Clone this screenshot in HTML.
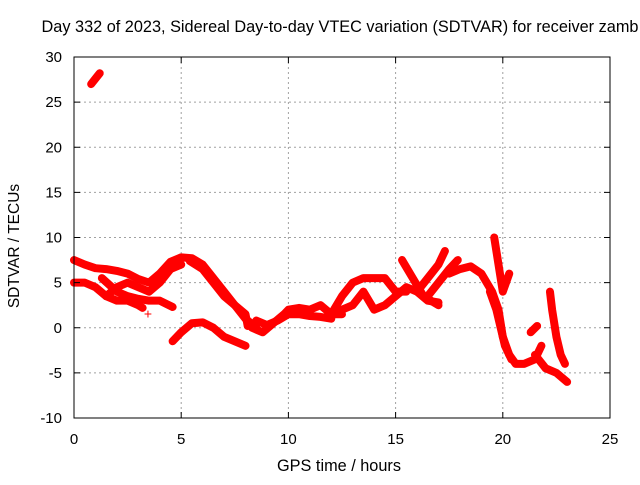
<!DOCTYPE html>
<html><head><meta charset="utf-8"><style>
body{margin:0;background:#fff}
svg text{font-family:"Liberation Sans",sans-serif;font-size:15px;fill:#000}
</style></head><body>
<svg id="chart" width="640" height="480" xmlns="http://www.w3.org/2000/svg">
<g id="grid"></g>
<g id="series"></g>
<rect x="74" y="57" width="536" height="361" fill="none" stroke="#000" stroke-width="1"/>
<g id="ticks"></g>
<text x="340" y="32" text-anchor="middle" style="font-size:16.3px">Day 332 of 2023, Sidereal Day-to-day VTEC variation (SDTVAR) for receiver zamb</text>
<text x="339" y="471" text-anchor="middle" style="font-size:16.3px">GPS time / hours</text>
<text transform="translate(19,246) rotate(-90)" text-anchor="middle" style="font-size:15.5px">SDTVAR / TECUs</text>
</svg>
<script>
const xTicks=[0,5,10,15,20,25];
const yTicks=[-10,-5,0,5,10,15,20,25,30];
const trackTop=[[0.8,27],[1.0,27.6],[1.2,28.2]];
const trackA=[[0,7.5],[0.5,7.0],[1,6.6],[1.5,6.5],[2,6.3],[2.5,6.0],[3,5.4],[3.5,5.0],[4,6.0],[4.5,7.3],[5,7.8],[5.5,7.7],[6,7.0],[6.5,5.5],[7,4.0],[7.5,2.5],[8,1.0],[8.5,0.0]];
const trackB=[[5.4,7.4],[6,6.5],[6.5,5.0],[7,3.5],[7.5,2.5],[8,1.5],[8.1,0.2]];
const trackC=[[0,5.0],[0.5,5.0],[1,4.5],[1.5,3.5],[2,3.0],[2.5,3.0],[3,2.5],[3.2,2.2]];
const trackD=[[1.5,3.5],[2,4.5],[2.5,5.0],[3,4.5],[3.5,4.0],[4,5.0],[4.5,6.5],[5,7.0]];
const trackD2=[[1.3,5.5],[2,4.0],[2.5,3.5],[3,3.2],[3.5,3.0],[4,3.0],[4.6,2.3]];
const trackE=[[4.6,-1.5],[5,-0.5],[5.5,0.5],[6,0.6],[6.5,0.0],[7,-1.0],[7.5,-1.5],[8,-2.0]];
const trackF=[[8.3,0],[8.8,-0.5],[9.3,0.5],[9.8,1.5],[10,2.0],[10.5,2.2],[11,2.0],[11.5,2.5],[12,1.5],[12.5,1.5]];
const trackF2=[[8.5,0.8],[9,0.3],[9.5,0.8],[10,1.5],[10.5,1.5],[11,1.3],[11.5,1.2],[12,1.0]];
const trackG=[[12,1.5],[12.5,3.5],[13,5.0],[13.5,5.5],[14,5.5],[14.5,5.5],[15,4.0],[15.5,4.0]];
const trackG2=[[12.5,2.0],[13,2.5],[13.5,4.0],[14,2.0],[14.5,2.5],[15,3.5],[15.5,4.5],[16,4.0],[16.5,3.0],[17,2.8]];
const trackH=[[15.3,7.5],[15.8,5.5],[16.3,3.5],[17,2.5]];
const trackH2=[[16,4.0],[16.5,5.5],[17,7.0],[17.3,8.5]];
const trackH3=[[16.5,3.5],[17,5.0],[17.5,6.5],[17.9,7.5]];
const trackI=[[17.5,6.0],[18,6.5],[18.5,6.8],[19,6.0],[19.5,4.0],[19.8,2.0],[20,-1.0],[20.3,-3.0],[20.6,-4.0],[21,-4.0],[21.5,-3.5],[21.8,-2.0]];
const trackI2=[[19.4,4.0],[19.7,2.0],[19.9,0.0],[20.1,-2.0],[20.4,-3.5]];
const trackJ=[[19.6,10.0],[19.8,7.0],[20,4.0],[20.3,6.0]];
const trackK=[[22.2,4.0],[22.3,2.0],[22.5,-1.0],[22.7,-3.0],[22.9,-4.0]];
const trackK2=[[21.5,-3.0],[22,-4.5],[22.5,-5.0],[23,-6.0]];
const trackK3=[[21.3,-0.5],[21.6,0.2]];
const tracks=[trackTop,trackA,trackB,trackC,trackD,trackD2,trackE,trackF,trackF2,trackG,trackG2,trackH,trackH2,trackH3,trackI,trackI2,trackJ,trackK,trackK2,trackK3];
const NS='http://www.w3.org/2000/svg';
const X=h=>74+h*(536/25);
const Y=v=>418-(v+10)*(361/40);
const grid=document.getElementById('grid'),ticks=document.getElementById('ticks'),ser=document.getElementById('series');
function mk(tag,attrs,parent){const e=document.createElementNS(NS,tag);for(const k in attrs)e.setAttribute(k,attrs[k]);parent.appendChild(e);return e;}
xTicks.forEach(t=>{
  if(t>0&&t<25){const g=mk('line',{x1:X(t),x2:X(t),y1:57,y2:418,stroke:'#a0a0a0','stroke-dasharray':'2,3'},grid);
  
  }
  mk('line',{x1:X(t),x2:X(t),y1:418,y2:412,stroke:'#000'},ticks);
  mk('line',{x1:X(t),x2:X(t),y1:57,y2:63,stroke:'#000'},ticks);
  const l=mk('text',{x:X(t),y:444,'text-anchor':'middle'},ticks);l.textContent=t;
  
  
});
yTicks.forEach(t=>{
  if(t>-10&&t<30){const g=mk('line',{x1:74,x2:610,y1:Y(t),y2:Y(t),stroke:'#a0a0a0','stroke-dasharray':'2,3'},grid);
  
  }
  mk('line',{x1:74,x2:80,y1:Y(t),y2:Y(t),stroke:'#000'},ticks);
  mk('line',{x1:610,x2:604,y1:Y(t),y2:Y(t),stroke:'#000'},ticks);
  const l=mk('text',{x:62,y:Y(t)+5,'text-anchor':'end'},ticks);l.textContent=t;
  
  
});
tracks.forEach(tr=>{
  const p=mk('polyline',{points:tr.map(d=>X(d[0])+','+Y(d[1])).join(' '),fill:'none',stroke:'#ff0000','stroke-width':8,'stroke-linejoin':'round','stroke-linecap':'round'},ser);
  
  
});
const pt=mk('text',{x:X(3.45),y:Y(1.6)+5,'text-anchor':'middle',style:'fill:#f00;font-size:14px'},ser);pt.textContent='+';


</script>
</body></html>
